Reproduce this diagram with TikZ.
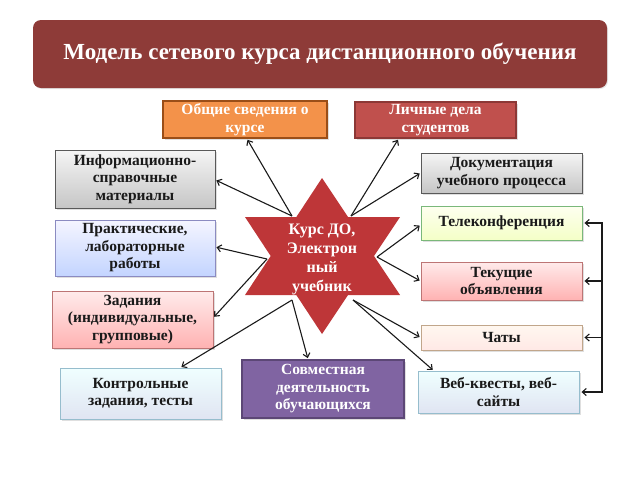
\documentclass[tikz,border=0pt]{standalone}
\usepackage{fontspec}
\setmainfont{Liberation Serif}
\usetikzlibrary{positioning, arrows.meta, shadows}
\definecolor{cdark}{HTML}{1A1A1A}
\definecolor{ctitle}{HTML}{8E3B38}
\definecolor{cstar}{HTML}{BE3638}
\definecolor{corange}{HTML}{F3924A}
\definecolor{corangeD}{HTML}{9A4E18}
\definecolor{cred}{HTML}{C0504D}
\definecolor{credD}{HTML}{8C3836}
\definecolor{cpurple}{HTML}{8064A2}
\definecolor{cpurpleD}{HTML}{5C4776}
\tikzset{
  box/.style={draw, line width=0.9pt, minimum width=161pt, inner sep=1pt, align=center,
    font=\fontsize{15.5}{17.5}\selectfont\bfseries, text=cdark,
    drop shadow={opacity=0.25, shadow xshift=1.5pt, shadow yshift=-1.5pt}},
  graybox/.style={box, top color=gray!8, bottom color=gray!45, draw=gray!70!black},
  bluebox/.style={box, top color=blue!4!white, bottom color=blue!20!cyan!10!white!85!blue, draw=blue!30!gray!70},
  cyanbox/.style={box, top color=cyan!6, bottom color=cyan!25!blue!8!white!90!gray, draw=cyan!40!gray!70},
  greenbox/.style={box, top color=green!8!yellow!6, bottom color=green!20!yellow!22!white, draw=green!30!gray!80},
  pinkbox/.style={box, top color=red!8, bottom color=red!30, draw=red!35!gray!80},
  peachbox/.style={box, top color=orange!6, bottom color=orange!25!red!10!white, draw=orange!30!gray!70},
  darkbox/.style={box, text=white, line width=1.8pt},
  arr/.style={draw=cdark, line width=1.1pt, -{Straight Barb[length=4pt, width=7pt]}, shorten >=1pt},
  link/.style={draw=cdark, line width=1.1pt},
}
\begin{document}
\begin{tikzpicture}[x=1pt, y=-1pt]
\useasboundingbox (0,0) rectangle (640,480);

% title
\node[fill=ctitle, rounded corners=8pt, minimum width=574pt, minimum height=68pt, text=white,
  font=\fontsize{23}{26}\selectfont\bfseries,
  drop shadow={opacity=0.2, shadow xshift=1pt, shadow yshift=-1pt}] (title) at (320,54)
  {Модель сетевого курса дистанционного обучения};

% top row
\node[darkbox, fill=corange, draw=corangeD, minimum width=164pt, minimum height=37pt] (gen) at (245,119.5)
  {Общие сведения о\\курсе};
\node[darkbox, fill=cred, draw=credD, minimum height=36pt] (pers) at (435.5,120)
  {Личные дела\\студентов};

% left column
\node[graybox, minimum width=160pt, minimum height=58pt] (info) at (135,179)
  {Информационно-\\справочные\\материалы};
\node[bluebox, minimum width=160pt, minimum height=56pt] (prac) at (135,248)
  {Практические,\\лабораторные\\работы};
\node[pinkbox, minimum height=57pt] (task) at (132.5,319.5)
  {Задания\\(индивидуальные,\\групповые)};
\node[cyanbox, minimum height=51pt] (ctrl) at (140.5,393.5)
  {Контрольные\\задания, тесты};

% bottom middle
\node[darkbox, fill=cpurple, draw=cpurpleD, minimum width=162pt, minimum height=58pt] (joint) at (323,389)
  {Совместная\\деятельность\\обучающихся};

% right column
\node[graybox, minimum height=40pt] (doc) at (501.5,173)
  {Документация\\учебного процесса};
\node[greenbox, minimum height=34pt] (tele) at (501.5,223)
  {Телеконференция};
\node[pinkbox, minimum height=38pt] (news) at (501.5,281)
  {Текущие\\объявления};
\node[peachbox, minimum height=25pt] (chat) at (501.5,337.5)
  {Чаты};
\node[cyanbox, minimum height=42pt] (web) at (498.5,392)
  {Веб-квесты, веб-\\сайты};

% star
\fill[cstar] (322,178) -- (400,295) -- (245,295) -- cycle
  (322,334) -- (245,217) -- (400,217) -- cycle;
\node[text=white, align=center, font=\fontsize{16}{19}\selectfont\bfseries] (hub) at (322,259)
  {Курс ДО,\\Электрон\\ный\\учебник};

\coordinate (hubNW) at (292,216);
\coordinate (hubNE) at (351,216);
\coordinate (hubW) at (267,259);
\coordinate (hubE) at (377,257);
\coordinate (hubSW) at (292,300);
\coordinate (hubSE) at (353,300);

\draw[arr] (hubNW) -- ([xshift=2pt]gen.south);
\draw[arr] (hubNW) -- ([yshift=-1pt]info.east);
\draw[arr] (hubNE) -- ([xshift=-37pt]pers.south);
\draw[arr] (hubNE) -- (doc.west);
\draw[arr] (hubW) -- ([yshift=1pt]prac.east);
\draw[arr] (hubW) -- ([yshift=2pt]task.east);
\draw[arr] (hubSW) -- ([xshift=40pt]ctrl.north);
\draw[arr] (hubSW) -- ([xshift=-15pt]joint.north);
\draw[arr] (hubE) -- ([yshift=-2pt]tele.west);
\draw[arr] (hubE) -- (news.west);
\draw[arr] (hubSE) -- (chat.west);
\draw[arr] (hubSE) -- ([xshift=-65pt]web.north);

% bracket on the right
\coordinate (brT) at (602,222);
\coordinate (brB) at (602,393);
\draw[link] (brT) -- (brB);
\foreach \b in {tele, news, chat, web}
  \draw[arr] (brT |- \b.east) -- ([xshift=1pt]\b.east);

\end{tikzpicture}
\end{document}
